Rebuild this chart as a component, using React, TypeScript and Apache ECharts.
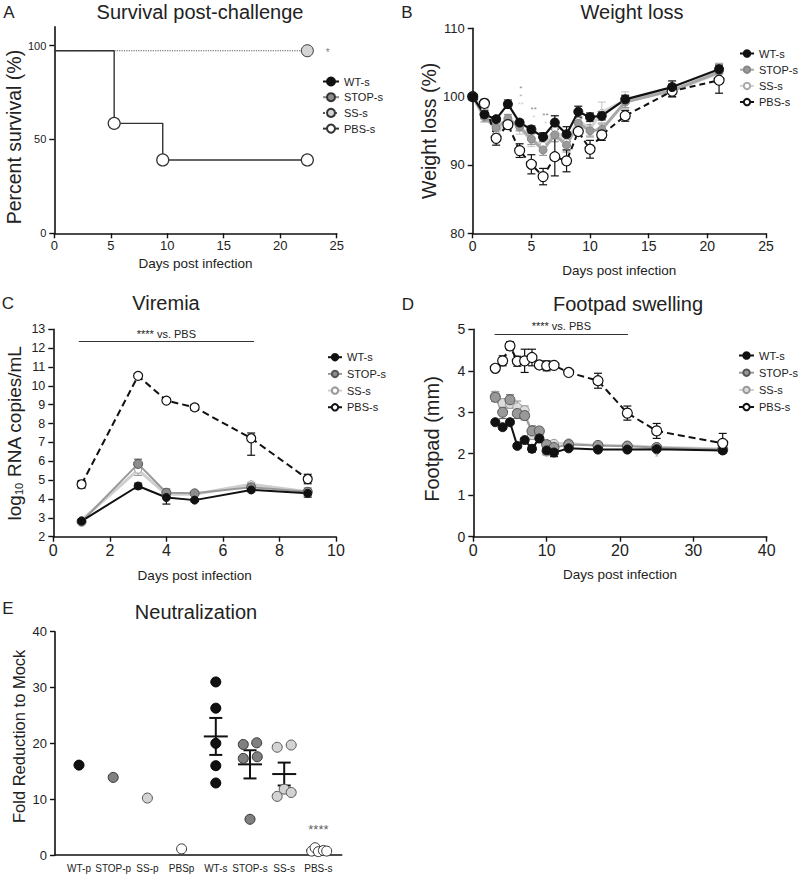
import React, { useEffect, useRef } from "react";
import * as echarts from "echarts";

const FONT = "'Liberation Sans', Arial, Helvetica, sans-serif";

// ---------------- Panel A: Survival post-challenge ----------------
const aPbsDays = [0, 5.3, 9.6, 22.4];
const aPbsSurv = [97.3, 58.6, 39.1, 39.1];
const aSsDays = [0, 22.4];
const aSsSurv = [97.3, 97.3];
const aStarDay = [24.2];
const aStarVal = [96.3];
const aStarText = ["*"];

// ---------------- Panel B: Weight loss ----------------
const bDays = [0, 1, 2, 3, 4, 5, 6, 7, 8, 9, 10, 11, 13, 17, 21];
const bWT = [100, 97.4, 96.7, 98.9, 96.2, 95.2, 94.1, 96.2, 94.5, 97.8, 97.0, 97.2, 99.6, 101.4, 104.0];
const bSTOP = [100, 97.0, 95.4, 96.8, 95.6, 93.8, 92.2, 94.4, 92.9, 96.1, 95.0, 95.2, 99.2, 100.9, 103.6];
const bSS = [100, 98.2, 94.5, 96.5, 95.4, 93.6, 92.9, 95.2, 93.4, 96.5, 95.3, 97.7, 99.5, 100.9, 103.4];
const bPBS = [100, 99.0, 93.9, 95.9, 92.1, 90.1, 88.3, 91.2, 90.6, 94.9, 92.3, 94.4, 97.2, 100.8, 102.4];
const bErrWT = [0, 0.6, 0.3, 0.6, 0.4, 0.5, 0.6, 1.0, 1.1, 0.8, 0.6, 0.6, 0.6, 0.9, 0.6];
const bErrSTOP = [0, 0.7, 0.8, 0.6, 0.6, 0.8, 0.8, 1.0, 1.0, 0.7, 0.9, 0.8, 0.8, 1.0, 1.2];
const bErrSS = [0, 0.8, 0.9, 0.7, 0.9, 0.9, 1.0, 1.5, 1.2, 0.9, 1.0, 1.5, 1.2, 1.0, 1.5];
const bErrPBS = [0, 0.6, 1.0, 0.6, 1.0, 1.4, 1.2, 2.8, 1.6, 0.6, 1.3, 0.8, 0.8, 0.8, 1.9];
// stacked significance marks (one text block per day, one line per comparison)
const bStarDay = [4.1, 5.2, 6.2];
const bStarVal = [100.0, 97.5, 96.65];
const bStarLines = [["*", "*", "**"], ["**", "*"], ["**", "*"]];
const bStarShade = [["d", "m", "l"], ["d", "l"], ["d", "l"]];

// ---------------- Panel C: Viremia ----------------
const cDays = [1, 3, 4, 5, 7, 9];
const cWT = [2.83, 4.69, 4.08, 3.94, 4.48, 4.3];
const cSTOP = [2.8, 5.86, 4.33, 4.3, 4.62, 4.38];
const cSS = [2.88, 5.55, 4.25, 4.25, 4.78, 4.38];
const cPBS = [4.78, 10.53, 9.22, 8.86, 7.22, 5.06];
const cErrWT = [0.08, 0.15, 0.35, 0.08, 0.1, 0.2];
const cErrSTOP = [0.08, 0.25, 0.2, 0.08, 0.1, 0.2];
const cErrSS = [0.08, 0.3, 0.1, 0.08, 0.1, 0.1];
const cErrPBS: (number | number[])[] = [0.2, 0.08, 0.05, 0.15, [0.9, 0.28], 0.25];
const cBarDays = [0.9, 7.1];
const cBarVal = 12.35;
const cBarText = "**** vs. PBS";

// ---------------- Panel D: Footpad swelling ----------------
const dDays = [3, 4, 5, 6, 7, 8, 9, 10, 11, 13, 17, 21, 25, 34];
const dWT = [2.76, 2.64, 2.76, 2.19, 2.33, 2.12, 2.37, 2.08, 2.03, 2.13, 2.1, 2.1, 2.11, 2.08];
const dSTOP = [3.36, 3.0, 3.3, 2.97, 2.92, 2.55, 2.55, 2.22, 2.15, 2.22, 2.2, 2.18, 2.15, 2.1];
const dSS = [3.4, 3.22, 3.2, 3.12, 3.05, 2.45, 2.5, 2.05, 2.24, 2.25, 2.2, 2.2, 2.16, 2.12];
const dPBS = [4.06, 4.24, 4.6, 4.23, 4.24, 4.32, 4.14, 4.12, 4.13, 3.96, 3.76, 2.98, 2.55, 2.25];
const dErrWT = [0.05, 0.05, 0.05, 0.05, 0.05, 0.08, 0.1, 0.1, 0.1, 0.04, 0.03, 0.03, 0.04, 0.05];
const dErrSTOP = [0.1, 0.15, 0.12, 0.12, 0.1, 0.12, 0.05, 0.08, 0.06, 0.05, 0.04, 0.04, 0.04, 0.04];
const dErrSS = [0.1, 0.1, 0.1, 0.15, 0.1, 0.1, 0.05, 0.08, 0.05, 0.05, 0.04, 0.04, 0.04, 0.04];
const dErrPBS = [0.08, 0.12, 0.1, 0.12, 0.28, 0.2, 0.05, 0.12, 0.05, 0.05, 0.18, 0.17, 0.18, 0.24];
const dBarDays = [2.9, 21.1];
const dBarVal = 4.89;
const dBarText = "**** vs. PBS";
const dStarDay = [25];
const dStarVal = [1.9];
const dStarText = ["*"];

// ---------------- Panel E: Neutralization ----------------
const eCats = ["WT-p", "STOP-p", "SS-p", "PBSp", "WT-s", "STOP-s", "SS-s", "PBS-s"];
const eWTp = [16.1];
const eSTOPp = [13.9];
const eSSp = [10.2];
const ePBSp = [1.1];
const eWTs = [31.0, 26.3, 20.0, 16.0, 12.9];
const eSTOPs = [19.8, 20.1, 17.3, 17.6, 6.4];
const eSSs = [19.3, 19.7, 11.8, 10.5, 11.2];
const ePBSs = [0.7, 1.3, 0.6, 0.8, 0.7];
const eStarVal = [4.5];
const eStarText = ["****"];

// jitter (pixel offsets, style only)
const jitterNone = [0, 0, 0, 0, 0];
const jitterSTOP = [-6.7, 6.7, -6.7, 7.3, 0];
const jitterSS = [-7, 7, 0, -7, 7];
const jitterPBS = [-6.7, -3.3, 0, 5, 8.3];

const BLACK = "#111111";
const TXT = "#222222";
const CLEAR = "rgba(0,0,0,0)";

function mean(a: number[]) {
  return a.reduce((s, v) => s + v, 0) / a.length;
}
function sem(a: number[]) {
  const m = mean(a);
  const v = a.reduce((s, x) => s + (x - m) * (x - m), 0) / (a.length - 1);
  return Math.sqrt(v) / Math.sqrt(a.length);
}

const axisLine = { show: true, onZero: false, lineStyle: { color: BLACK, width: 1.6 } };
const axisTick = { show: true, length: 5, lineStyle: { color: BLACK, width: 1.4 } };

function xAxisCfg(gridIndex: number, min: number, max: number, interval: number, fontSize: number, nameGap: number) {
  return {
    type: "value",
    gridIndex,
    min,
    max,
    interval,
    name: "Days post infection",
    nameLocation: "middle",
    nameGap,
    nameTextStyle: { fontSize: 13.5, fontFamily: FONT, color: TXT },
    axisLine,
    axisTick,
    axisLabel: { fontSize, fontFamily: FONT, color: TXT, margin: 6 },
    splitLine: { show: false },
  };
}

function yAxisCfg(
  gridIndex: number,
  min: number,
  max: number,
  interval: number,
  fontSize: number,
  name: string,
  nameSize: number,
  nameGap: number,
  namePad: number[] = [0, 0, 0, 0],
  extra: any = {}
) {
  return {
    type: "value",
    gridIndex,
    min,
    max,
    interval,
    name,
    nameLocation: "middle",
    nameGap,
    nameTextStyle: { fontSize: nameSize, fontFamily: FONT, color: TXT, padding: namePad },
    axisLine,
    axisTick,
    axisLabel: { fontSize, fontFamily: FONT, color: TXT, margin: 8 },
    splitLine: { show: false },
    ...extra,
  };
}

function pairs(xs: number[], ys: number[]) {
  return xs.map((x, i) => [x, ys[i]]);
}

function errSeries(axis: number, xs: number[], ys: number[], errs: (number | number[])[], color: string, cap = 4, z = 1) {
  return {
    type: "custom",
    xAxisIndex: axis,
    yAxisIndex: axis,
    silent: true,
    z,
    encode: { x: 0, y: 1 },
    data: xs.map((x, i) => {
      const e = errs[i];
      const lo = Array.isArray(e) ? e[0] : e;
      const hi = Array.isArray(e) ? e[1] : e;
      return [x, ys[i], lo, hi];
    }),
    renderItem: (params: any, api: any) => {
      const x = api.value(0);
      const y = api.value(1);
      const lo = api.value(2);
      const hi = api.value(3);
      if (!lo && !hi) return { type: "group", children: [] };
      const t = api.coord([x, y + hi]);
      const b = api.coord([x, y - lo]);
      const style = { stroke: color, lineWidth: 1.2 };
      return {
        type: "group",
        children: [
          { type: "line", shape: { x1: t[0], y1: t[1], x2: b[0], y2: b[1] }, style },
          { type: "line", shape: { x1: t[0] - cap, y1: t[1], x2: t[0] + cap, y2: t[1] }, style },
          { type: "line", shape: { x1: b[0] - cap, y1: b[1], x2: b[0] + cap, y2: b[1] }, style },
        ],
      };
    },
  };
}

function lineSeries(name: string, axis: number, xs: number[], ys: number[], st: any) {
  return {
    type: "line",
    name,
    xAxisIndex: axis,
    yAxisIndex: axis,
    data: pairs(xs, ys),
    symbol: "circle",
    symbolSize: st.size,
    showSymbol: true,
    z: st.z ?? 3,
    lineStyle: { color: st.line, width: st.width, type: st.type ?? "solid" },
    itemStyle: { color: st.fill, borderColor: st.border, borderWidth: st.bw ?? 1 },
    emphasis: { disabled: true },
  };
}

function textSeries(axis: number, xs: number[], ys: number[], texts: string[], colors: string[], fontSize = 11) {
  return {
    type: "scatter",
    xAxisIndex: axis,
    yAxisIndex: axis,
    symbolSize: 1,
    itemStyle: { color: CLEAR },
    silent: true,
    z: 6,
    data: xs.map((x, i) => ({
      value: [x, ys[i]],
      name: texts[i],
      label: { color: colors[i] },
    })),
    label: { show: true, position: "inside", formatter: "{b}", fontSize, lineHeight: fontSize, fontFamily: FONT },
  };
}

function legendCfg(prefix: string, left: number, top: number, gap: number, itemWidth: number, itemHeight: number) {
  return {
    data: ["WT-s", "STOP-s", "SS-s", "PBS-s"].map((n) => prefix + n),
    orient: "vertical",
    left,
    top,
    itemGap: gap,
    itemWidth,
    itemHeight,
    padding: 0,
    selectedMode: false,
    formatter: (n: string) => n.slice(2),
    textStyle: { fontSize: 11, fontFamily: FONT, color: TXT, lineHeight: 11 },
  };
}

function buildOption() {
  const grids = [
    { left: 54.3, top: 26.9, width: 282.4, height: 206.4 }, // A
    { left: 472.7, top: 28.3, width: 293.3, height: 205 }, // B
    { left: 53.3, top: 329.3, width: 282.7, height: 207.4 }, // C
    { left: 473.3, top: 329.3, width: 293.4, height: 207.4 }, // D
    { left: 55, top: 631.7, width: 286.7, height: 223.3 }, // E frame
    { left: 61.9, top: 631.7, width: 273.6, height: 223.3 }, // E categories
  ];

  const xAxes: any[] = [
    xAxisCfg(0, 0, 25, 5, 13, 23),
    xAxisCfg(1, 0, 25, 5, 14, 30),
    xAxisCfg(2, 0, 10, 2, 16, 32),
    xAxisCfg(3, 0, 40, 10, 16, 31),
    {
      type: "value",
      gridIndex: 4,
      min: 0,
      max: 1,
      axisLine,
      axisTick: { show: false },
      axisLabel: { show: false },
      splitLine: { show: false },
    },
    {
      type: "category",
      gridIndex: 5,
      data: eCats,
      boundaryGap: true,
      axisLine: { show: false },
      axisTick: { show: false },
      axisLabel: { interval: 0, fontSize: 10, fontFamily: FONT, color: TXT, margin: 8 },
      splitLine: { show: false },
    },
  ];

  const yAxes: any[] = [
    yAxisCfg(0, 0, 110, 50, 11, "Percent survival (%)", 19.5, 30, [0, 14, 0, 0], {
      axisLabel: { fontSize: 11, fontFamily: FONT, color: TXT, margin: 8, customValues: [0, 50, 100] },
      axisTick: { ...axisTick, customValues: [0, 50, 100] },
    }),
    yAxisCfg(1, 80, 110, 10, 13, "Weight loss (%)", 19.5, 31),
    {
      ...yAxisCfg(2, 2, 13, 1, 12.5, "log{sub|10} RNA copies/mL", 19, 29),
      nameTextStyle: {
        fontSize: 19,
        fontFamily: FONT,
        color: TXT,
        rich: { sub: { fontSize: 11, fontFamily: FONT, color: TXT, verticalAlign: "bottom", padding: [8, 0, 0, 0] } },
      },
    },
    yAxisCfg(3, 0, 5, 1, 14, "Footpad (mm)", 20, 31, [0, 12, 0, 0]),
    yAxisCfg(4, 0, 40, 10, 13, "Fold Reduction to Mock", 16.5, 28, [0, 0, 0, 14]),
    { type: "value", gridIndex: 5, min: 0, max: 40, show: false },
  ];

  const series: any[] = [];

  // ---- A ----
  series.push({
    ...lineSeries("A:SS-s", 0, aSsDays, aSsSurv, { size: 12, line: "#555", width: 1.2, type: "dotted", fill: "#d4d4d4", border: "#333" }),
    data: pairs(aSsDays, aSsSurv).map((p, i) => (i === 0 ? { value: p, symbol: "none" } : { value: p })),
  });
  series.push({ ...lineSeries("A:STOP-s", 0, [], [], { size: 12, line: "#888", width: 1.5, fill: "#8c8c8c", border: "#333" }), data: [] });
  series.push({ ...lineSeries("A:WT-s", 0, [], [], { size: 12, line: BLACK, width: 1.5, fill: BLACK, border: BLACK }), data: [] });
  series.push({
    ...lineSeries("A:PBS-s", 0, aPbsDays, aPbsSurv, { size: 12, line: "#333", width: 1.4, fill: "#fff", border: "#333", bw: 1.2 }),
    step: "end",
    data: pairs(aPbsDays, aPbsSurv).map((p, i) => (i === 0 ? { value: p, symbol: "none" } : { value: p })),
  });
  series.push(textSeries(0, aStarDay, aStarVal, aStarText, ["#555"], 10));

  // ---- B ----
  series.push(errSeries(1, bDays, bSS, bErrSS, "#cccccc"));
  series.push(errSeries(1, bDays, bSTOP, bErrSTOP, "#999999"));
  series.push(errSeries(1, bDays, bPBS, bErrPBS, BLACK));
  series.push(errSeries(1, bDays, bWT, bErrWT, BLACK));
  series.push(lineSeries("B:SS-s", 1, bDays, bSS, { size: 6, line: "#d4d4d4", width: 3, fill: "#fff", border: "#aaa" }));
  series.push(lineSeries("B:STOP-s", 1, bDays, bSTOP, { size: 8, line: "#a8a8a8", width: 3, fill: "#9a9a9a", border: "#888" }));
  series.push(lineSeries("B:PBS-s", 1, bDays, bPBS, { size: 10, line: BLACK, width: 2, type: [6, 4], fill: "#fff", border: BLACK, bw: 1.2 }));
  series.push(lineSeries("B:WT-s", 1, bDays, bWT, { size: 9, line: BLACK, width: 2.2, fill: BLACK, border: BLACK }));
  series.push({
    type: "scatter",
    xAxisIndex: 1,
    yAxisIndex: 1,
    symbolSize: 1,
    itemStyle: { color: CLEAR },
    silent: true,
    z: 6,
    data: bStarDay.map((d, i) => ({
      value: [d, bStarVal[i]],
      name: bStarLines[i].map((s, k) => `{${bStarShade[i][k]}|${s}}`).join("\n"),
    })),
    label: {
      show: true,
      position: "inside",
      formatter: "{b}",
      fontSize: 8,
      lineHeight: 8,
      fontFamily: FONT,
      rich: {
        d: { color: "#666666", fontSize: 8, lineHeight: 8, fontFamily: FONT },
        m: { color: "#999999", fontSize: 8, lineHeight: 8, fontFamily: FONT },
        l: { color: "#c4c4c4", fontSize: 8, lineHeight: 8, fontFamily: FONT },
      },
    },
  });

  // ---- C ----
  series.push(errSeries(2, cDays, cSS, cErrSS, "#999"));
  series.push(errSeries(2, cDays, cSTOP, cErrSTOP, "#666"));
  series.push(errSeries(2, cDays, cPBS, cErrPBS, BLACK));
  series.push(errSeries(2, cDays, cWT, cErrWT, BLACK));
  series.push(lineSeries("C:SS-s", 2, cDays, cSS, { size: 7, line: "#cfcfcf", width: 3, fill: "#fff", border: "#999" }));
  series.push(lineSeries("C:STOP-s", 2, cDays, cSTOP, { size: 9, line: "#999", width: 2, fill: "#8c8c8c", border: "#555" }));
  series.push(lineSeries("C:WT-s", 2, cDays, cWT, { size: 8, line: BLACK, width: 2, fill: BLACK, border: BLACK }));
  series.push({
    ...lineSeries("C:PBS-s", 2, cDays, cPBS, { size: 9, line: BLACK, width: 2, type: [7, 4], fill: "#fff", border: BLACK, bw: 1.2 }),
    markLine: {
      silent: true,
      symbol: ["none", "none"],
      lineStyle: { color: "#333", width: 1.2, type: "solid" },
      label: { show: true, position: "insideMiddleTop", distance: 2, formatter: cBarText, fontSize: 11, fontFamily: FONT, color: TXT },
      data: [[{ coord: [cBarDays[0], cBarVal] }, { coord: [cBarDays[1], cBarVal] }]],
    },
  });

  // ---- D ----
  series.push(errSeries(3, dDays, dSS, dErrSS, "#999"));
  series.push(errSeries(3, dDays, dSTOP, dErrSTOP, "#666"));
  series.push(errSeries(3, dDays, dPBS, dErrPBS, BLACK));
  series.push(errSeries(3, dDays, dWT, dErrWT, BLACK));
  series.push(lineSeries("D:SS-s", 3, dDays, dSS, { size: 9, line: "#d0d0d0", width: 2.5, fill: "#dcdcdc", border: "#999" }));
  series.push(lineSeries("D:STOP-s", 3, dDays, dSTOP, { size: 10, line: "#9a9a9a", width: 2, fill: "#999", border: "#555" }));
  series.push(lineSeries("D:WT-s", 3, dDays, dWT, { size: 9, line: BLACK, width: 2, fill: BLACK, border: BLACK }));
  series.push({
    ...lineSeries("D:PBS-s", 3, dDays, dPBS, { size: 10, line: BLACK, width: 2, type: [7, 4], fill: "#fff", border: BLACK, bw: 1.2 }),
    markLine: {
      silent: true,
      symbol: ["none", "none"],
      lineStyle: { color: "#333", width: 1.2, type: "solid" },
      label: { show: true, position: "insideMiddleTop", distance: 2, formatter: dBarText, fontSize: 11, fontFamily: FONT, color: TXT },
      data: [[{ coord: [dBarDays[0], dBarVal] }, { coord: [dBarDays[1], dBarVal] }]],
    },
  });
  series.push(textSeries(3, dStarDay, dStarVal, dStarText, ["#888"], 10));

  // ---- E ----
  const groupsS = [
    { idx: 4, vals: eWTs },
    { idx: 5, vals: eSTOPs },
    { idx: 6, vals: eSSs },
    { idx: 7, vals: ePBSs },
  ];
  series.push({
    type: "custom",
    xAxisIndex: 5,
    yAxisIndex: 5,
    silent: true,
    z: 1,
    data: groupsS.map((g) => [g.idx, mean(g.vals), sem(g.vals)]),
    renderItem: (params: any, api: any) => {
      const i = api.value(0);
      const m = api.value(1);
      const s = api.value(2);
      const c = api.coord([i, m]);
      const t = api.coord([i, m + s]);
      const b = api.coord([i, m - s]);
      const style = { stroke: BLACK, lineWidth: 2 };
      return {
        type: "group",
        children: [
          { type: "line", shape: { x1: c[0] - 12, y1: c[1], x2: c[0] + 12, y2: c[1] }, style },
          { type: "line", shape: { x1: t[0], y1: t[1], x2: b[0], y2: b[1] }, style },
          { type: "line", shape: { x1: t[0] - 6.5, y1: t[1], x2: t[0] + 6.5, y2: t[1] }, style },
          { type: "line", shape: { x1: b[0] - 6.5, y1: b[1], x2: b[0] + 6.5, y2: b[1] }, style },
        ],
      };
    },
  });
  const scat = (name: string, idx: number, vals: number[], jit: number[], fill: string, border: string) => ({
    type: "scatter",
    name,
    xAxisIndex: 5,
    yAxisIndex: 5,
    symbol: "circle",
    symbolSize: 10,
    z: 3,
    itemStyle: { color: fill, borderColor: border, borderWidth: 1, opacity: 1 },
    data: vals.map((v, k) => ({ value: [idx, v], symbolOffset: [jit[k], 0] })),
  });
  series.push(scat("E:WT-p", 0, eWTp, jitterNone, BLACK, "#000"));
  series.push(scat("E:STOP-p", 1, eSTOPp, jitterNone, "#808080", "#333"));
  series.push(scat("E:SS-p", 2, eSSp, jitterNone, "#d3d3d3", "#555"));
  series.push(scat("E:PBSp", 3, ePBSp, jitterNone, "#fff", "#333"));
  series.push(scat("E:WT-s", 4, eWTs, jitterNone, BLACK, "#000"));
  series.push(scat("E:STOP-s", 5, eSTOPs, jitterSTOP, "#808080", "#333"));
  series.push(scat("E:SS-s", 6, eSSs, jitterSS, "#d3d3d3", "#555"));
  series.push(scat("E:PBS-s", 7, ePBSs, jitterPBS, "#fff", "#333"));
  series.push({
    type: "scatter",
    xAxisIndex: 5,
    yAxisIndex: 5,
    symbolSize: 1,
    itemStyle: { color: CLEAR },
    silent: true,
    z: 6,
    data: eStarVal.map((v, i) => ({ value: [7, v], name: eStarText[i] })),
    label: { show: true, position: "inside", formatter: "{b}", fontSize: 13, fontFamily: FONT, color: "#333" },
  });

  const txt = (text: string, x: number, y: number, size: number) => ({
    type: "text",
    x,
    y,
    silent: true,
    style: {
      text,
      font: `${size}px ${FONT}`,
      fill: TXT,
      textAlign: "center",
      textVerticalAlign: "middle",
      align: "center",
      verticalAlign: "middle",
    },
  });

  return {
    animation: false,
    backgroundColor: "#ffffff",
    textStyle: { fontFamily: FONT },
    grid: grids,
    xAxis: xAxes,
    yAxis: yAxes,
    legend: [
      legendCfg("A:", 322, 76, 4.7, 16, 10),
      legendCfg("B:", 739, 48, 5.2, 14, 8),
      legendCfg("C:", 327, 351.7, 5.7, 14, 8),
      legendCfg("D:", 738, 350, 6.2, 15, 8),
    ],
    graphic: [
      txt("A", 9, 12, 17),
      txt("Survival post-challenge", 200, 12, 20),
      txt("B", 407, 12, 17),
      txt("Weight loss", 632, 12, 20),
      txt("C", 8, 303, 17),
      txt("Viremia", 166, 303, 20),
      txt("D", 408, 304, 17),
      txt("Footpad swelling", 628, 304, 20),
      txt("E", 8, 608, 17),
      txt("Neutralization", 196, 612, 20),
    ],
    series,
  };
}

export default function App() {
  const ref = useRef<HTMLDivElement>(null);
  useEffect(() => {
    if (!ref.current) return;
    const chart = echarts.init(ref.current, null, { renderer: "svg" });
    chart.setOption(buildOption() as any);
    return () => chart.dispose();
  }, []);
  return (
    <div
      ref={ref}
      style={{ position: "absolute", left: 0, top: 0, width: 800, height: 876, background: "#fff" }}
    />
  );
}
